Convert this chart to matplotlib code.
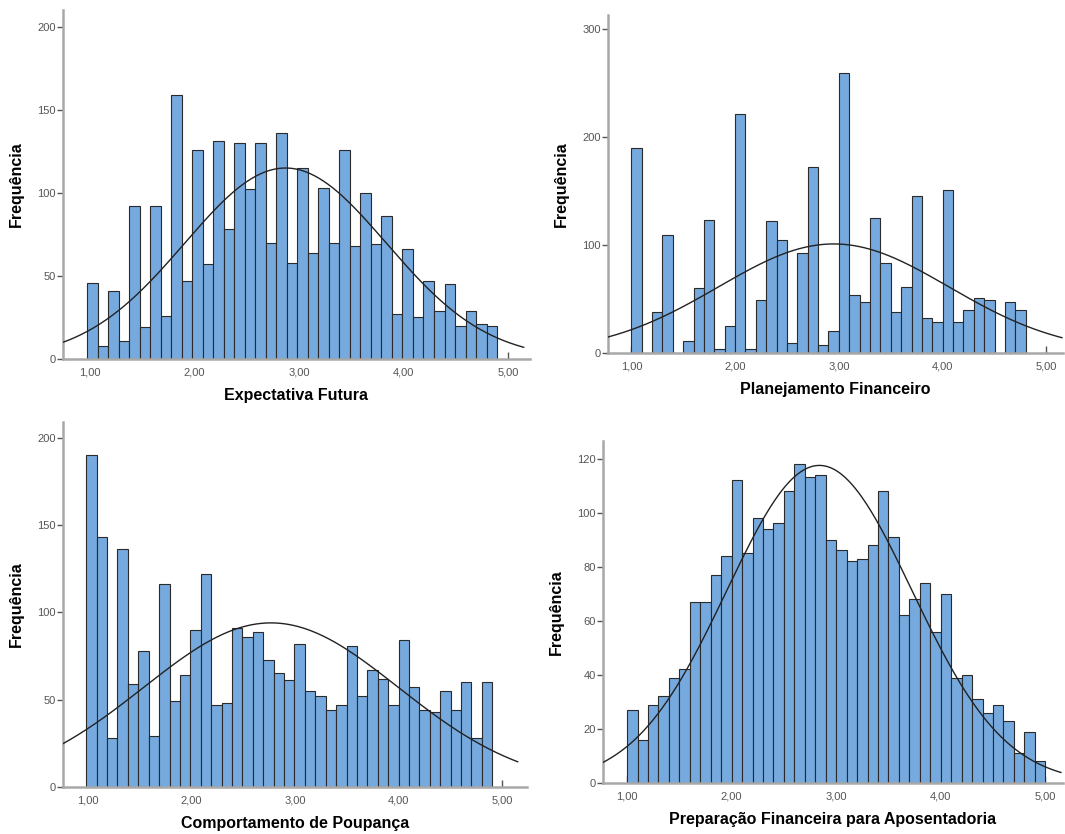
import numpy as np
import matplotlib
matplotlib.use('Agg')
import matplotlib.pyplot as plt

plt.rcParams['font.family'] = ['Liberation Sans', 'DejaVu Sans']

# contagens por classe
expectativa = [46, 8, 41, 11, 92, 19, 92, 26, 159, 47, 126, 57, 131, 78, 130, 102, 130, 70, 136,
               58, 115, 64, 103, 70, 126, 68, 100, 69, 86, 27, 66, 25, 47, 29, 45, 20, 29, 21, 20]
planejamento = [190, 0, 38, 109, 0, 11, 60, 123, 4, 25, 221, 4, 49, 122, 105, 9, 93, 172, 7,
                20, 259, 54, 47, 125, 83, 38, 61, 145, 32, 29, 151, 29, 40, 51, 49, 0, 47, 40]
poupanca = [190, 143, 28, 136, 59, 78, 29, 116, 49, 64, 90, 122, 47, 48, 91, 86, 89, 73, 65,
            61, 82, 55, 52, 44, 47, 81, 52, 67, 62, 47, 84, 57, 44, 43, 55, 44, 60, 28, 60]
aposentadoria = [27, 16, 29, 32, 39, 42, 67, 67, 77, 84, 112, 85, 98, 94, 96, 108, 118, 113, 114,
                 90, 86, 82, 83, 88, 108, 91, 62, 68, 74, 56, 70, 39, 40, 31, 26, 29, 23, 11, 19, 8]

# limites das classes
bin_start = [0.97, 1.0, 0.987, 1.0]
bin_end = [4.895, 4.8, 4.905, 5.0]

# curva normal: media, desvio, n
curve_mean = [2.87, 2.95, 2.77, 2.84]
curve_sd = [0.965, 1.11, 1.23, 0.885]
curve_n = [2762, 2810, 2884, 2606]

titles = ['Expectativa Futura', 'Planejamento Financeiro',
          'Comportamento de Poupança', 'Preparação Financeira para Aposentadoria']
yticks = [[0, 50, 100, 150, 200], [0, 100, 200, 300], [0, 50, 100, 150, 200],
          [0, 20, 40, 60, 80, 100, 120]]
xticks = [1, 2, 3, 4, 5]
xtick_labels = ['1,00', '2,00', '3,00', '4,00', '5,00']

W, H = 1065, 834
# pixel boxes: left, right, top, bottom
boxes = [(63, 530, 10, 359), (608, 1063, 15, 353), (63, 527, 422, 787), (603, 1063, 441, 783)]
xlims = [(0.74, 5.21), (0.775, 5.16), (0.763, 5.24), (0.77, 5.17)]
ytops = [210, 313, 209, 126.5]

fig = plt.figure(figsize=(W / 100, H / 100), dpi=100)
data = [expectativa, planejamento, poupanca, aposentadoria]

for i in range(4):
    l, r, t, b = boxes[i]
    ax = fig.add_axes([l / W, 1 - b / H, (r - l) / W, (b - t) / H])
    counts = np.array(data[i])
    edges = np.linspace(bin_start[i], bin_end[i], len(counts) + 1)
    width = edges[1] - edges[0]
    ax.bar(edges[:-1], counts, width=width, align='edge', color='#76a9dd',
           edgecolor='#2a2a2a', linewidth=0.8, zorder=2)
    xs = np.linspace(xlims[i][0], 5.15, 300)
    ys = curve_n[i] * width * np.exp(-(xs - curve_mean[i]) ** 2 / (2 * curve_sd[i] ** 2)) / (curve_sd[i] * np.sqrt(2 * np.pi))
    ax.plot(xs, ys, color='#222222', linewidth=1.0, zorder=3)

    ax.set_xlim(*xlims[i])
    ax.set_ylim(0, ytops[i])
    ax.set_xticks(xticks)
    ax.set_xticklabels(xtick_labels)
    ax.set_yticks(yticks[i])
    for s in ['top', 'right']:
        ax.spines[s].set_visible(False)
    for s in ['left', 'bottom']:
        ax.spines[s].set_color('#a8a8a8')
        ax.spines[s].set_linewidth(1.8)
    ax.tick_params(axis='x', direction='in', length=5, width=1, color='#555555',
                   labelsize=8, labelcolor='#555555', pad=6)
    ax.tick_params(axis='y', direction='out', length=4, width=1, color='#555555',
                   labelsize=8, labelcolor='#555555', pad=1)
    ax.set_xlabel(titles[i], fontsize=11.5, fontweight='bold', labelpad=8)
    ax.set_ylabel('Frequência', fontsize=11.5, fontweight='bold', labelpad=10)

fig.savefig('out.png', dpi=100)
